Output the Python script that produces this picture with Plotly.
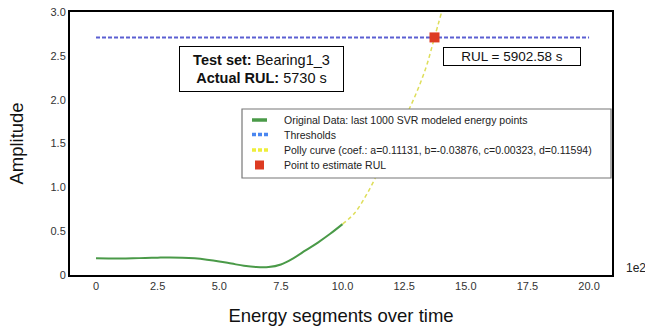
import plotly.graph_objects as go

# Data (x in units of 1e2 segments)
orig_x = [0, 0.5, 1, 1.5, 2, 2.5, 3, 3.5, 4, 4.5, 5, 5.5, 6, 6.5, 7, 7.5, 8, 8.5, 9, 9.5, 10]
orig_y = [0.19, 0.188, 0.187, 0.19, 0.195, 0.198, 0.2, 0.198, 0.19, 0.175, 0.155, 0.13, 0.105, 0.09, 0.09, 0.12, 0.19, 0.28, 0.37, 0.47, 0.58]
poly_x = [10.0, 10.5, 11.0, 11.5, 12.0, 12.5, 13.0, 13.4, 13.73, 14.02]
poly_y = [0.58, 0.71, 0.93, 1.2, 1.46, 1.77, 2.08, 2.38, 2.71, 3.0]
thr_x = [0, 20]
thr_y = [2.71, 2.71]
rul_x = [13.73]
rul_y = [2.71]
xtick_vals = [0, 2.5, 5, 7.5, 10, 12.5, 15, 17.5, 20]
xtick_text = ["0", "2.5", "5.0", "7.5", "10.0", "12.5", "15.0", "17.5", "20.0"]
ytick_vals = [0, 0.5, 1, 1.5, 2, 2.5, 3]
ytick_text = ["0", "0.5", "1.0", "1.5", "2.0", "2.5", "3.0"]
legend_names = ["Original Data: last 1000 SVR modeled energy points", "Thresholds",
                "Polly curve (coef.: a=0.11131, b=-0.03876, c=0.00323, d=0.11594)", "Point to estimate RUL"]

GREEN, BLUE, YELLOW, RED = "#4a9a48", "#5b5fd2", "#dede5a", "#dd3b22"
LEG_BLUE, LEG_YELLOW = "#4a86f0", "#eeee3a"

fig = go.Figure()
fig.add_trace(go.Scatter(x=orig_x, y=orig_y, mode="lines", line=dict(color=GREEN, width=2, shape="spline"),
                         name=legend_names[0]))
fig.add_trace(go.Scatter(x=thr_x, y=thr_y, mode="lines", line=dict(color=BLUE, width=2, dash="4px,2px"),
                         name=legend_names[1]))
fig.add_trace(go.Scatter(x=poly_x, y=poly_y, mode="lines", line=dict(color=YELLOW, width=1.5, dash="4px,3px", shape="spline"),
                         name=legend_names[2]))
fig.add_trace(go.Scatter(x=rul_x, y=rul_y, mode="markers", marker=dict(color=RED, size=10, symbol="square"),
                         name=legend_names[3]))

L, R, T, B = 70, 612, 12, 275
def px(x):
    return (x - L) / (R - L)
def py(y):
    return (B - y) / (B - T)

fig.update_layout(
    width=645, height=330,
    margin=dict(l=L, r=645 - R, t=T, b=330 - B),
    paper_bgcolor="white", plot_bgcolor="white",
    font=dict(family="Liberation Sans, Arial, sans-serif", color="#222"),
    showlegend=False,
    xaxis=dict(range=[-1.055, 20.93], tickvals=xtick_vals, ticktext=xtick_text, showgrid=False, zeroline=False,
               automargin=False,
               showline=True, linecolor="black", linewidth=2, mirror=True, ticks="", tickfont=dict(size=11, color="#333"),
               title=dict(text="Energy segments over time", font=dict(size=18.5, color="#111"), standoff=18)),
    yaxis=dict(range=[0, 3.0], tickvals=ytick_vals, ticktext=ytick_text, showgrid=False, zeroline=False,
               automargin=False,
               showline=True, linecolor="black", linewidth=2, mirror=True, ticks="", tickfont=dict(size=11, color="#333"),
               title=dict(text="Amplitude", font=dict(size=18.5, color="#111"), standoff=22)),
)

# manual compact legend
shapes = [dict(type="rect", xref="paper", yref="paper", x0=px(242), x1=px(611), y0=py(109), y1=py(178),
               line=dict(color="#777", width=1.2), fillcolor="white", layer="above")]
rows = [120, 134.5, 150, 165]
shapes.append(dict(type="line", xref="paper", yref="paper", x0=px(252), x1=px(267), y0=py(rows[0]), y1=py(rows[0]),
                   line=dict(color=GREEN, width=3.5), layer="above"))
shapes.append(dict(type="line", xref="paper", yref="paper", x0=px(252), x1=px(268), y0=py(rows[1]), y1=py(rows[1]),
                   line=dict(color=LEG_BLUE, width=3.5, dash="4px,2px"), layer="above"))
shapes.append(dict(type="line", xref="paper", yref="paper", x0=px(252), x1=px(268), y0=py(rows[2]), y1=py(rows[2]),
                   line=dict(color=LEG_YELLOW, width=3.5, dash="4px,2px"), layer="above"))
shapes.append(dict(type="rect", xref="paper", yref="paper", x0=px(255), x1=px(264), y0=py(rows[3] + 4.5), y1=py(rows[3] - 4.5),
                   line=dict(width=0), fillcolor=RED, layer="above"))
fig.update_layout(shapes=shapes)
for name, r in zip(legend_names, rows):
    fig.add_annotation(xref="paper", yref="paper", x=px(282), y=py(r), xanchor="left", yanchor="middle",
                       text=name, showarrow=False, font=dict(size=10.5, color="#222"))

fig.add_annotation(xref="paper", yref="paper", x=px(624), y=py(268), xanchor="left", yanchor="middle",
                   text="1e2", showarrow=False, font=dict(size=12, color="#222"))
fig.add_annotation(xref="x", yref="y", x=6.73, y=2.354, text="<b>Test set:</b> Bearing1_3<br><b>Actual RUL:</b> 5730 s",
                   showarrow=False, font=dict(size=14.5, color="#111"), bordercolor="black", borderwidth=1,
                   borderpad=0, bgcolor="white", align="center", width=163, height=44)
fig.add_annotation(xref="x", yref="y", x=16.88, y=2.49, text="RUL = 5902.58 s", showarrow=False,
                   font=dict(size=13.5, color="#111"), bordercolor="black", borderwidth=1, borderpad=0,
                   bgcolor="white", width=136, height=17)

fig.write_html("out.html")
